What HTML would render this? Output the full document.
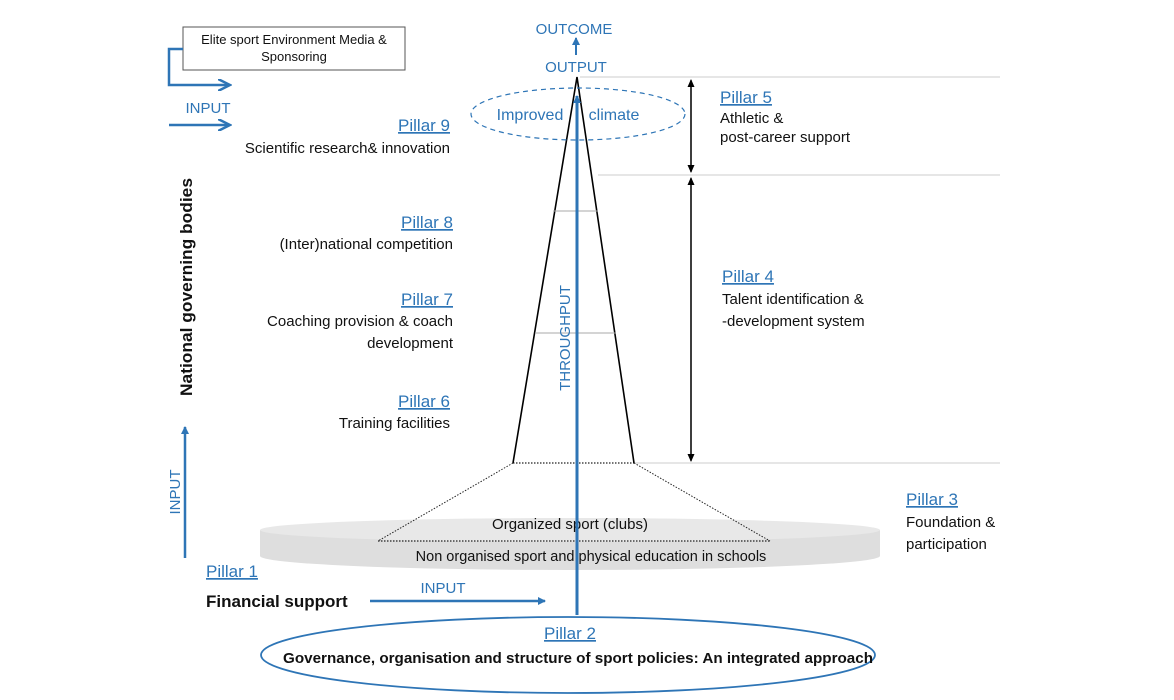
<!DOCTYPE html>
<html><head><meta charset="utf-8"><style>
html,body{margin:0;padding:0;background:#fff;}
svg{display:block;font-family:"Liberation Sans",sans-serif;}
.b{fill:#2e75b6;}
.k{fill:#111;}
</style></head><body>
<svg width="1174" height="700" viewBox="0 0 1174 700" xmlns="http://www.w3.org/2000/svg">
<defs>
<marker id="ab" markerWidth="8" markerHeight="8" refX="7" refY="4" orient="auto" markerUnits="userSpaceOnUse"><path d="M0,0 L8,4 L0,8 Z" fill="#2e75b6"/></marker>
<marker id="ak" markerWidth="8" markerHeight="8" refX="7" refY="4" orient="auto" markerUnits="userSpaceOnUse"><path d="M0,0.5 L8,4 L0,7.5 Z" fill="#000"/></marker>
<marker id="ab2" markerWidth="14" markerHeight="12" refX="12" refY="6" orient="auto" markerUnits="userSpaceOnUse"><path d="M0,0 L12,6 L0,12" fill="none" stroke="#2e75b6" stroke-width="2.5"/></marker>
</defs>
<rect x="183" y="27" width="222" height="43" fill="#fff" stroke="#555" stroke-width="1"/>
<text x="294" y="44" font-size="13" text-anchor="middle" class="k">Elite sport Environment Media &amp;</text>
<text x="294" y="61" font-size="13" text-anchor="middle" class="k">Sponsoring</text>
<polyline points="183,49 169,49 169,85 230,85" fill="none" stroke="#2e75b6" stroke-width="2.5" marker-end="url(#ab2)"/>
<text x="208" y="113" font-size="15" text-anchor="middle" class="b">INPUT</text>
<line x1="169" y1="125" x2="230" y2="125" stroke="#2e75b6" stroke-width="2.5" marker-end="url(#ab2)"/>

<line x1="580" y1="77" x2="1000" y2="77" stroke="#ccc" stroke-width="1"/>
<line x1="598" y1="175" x2="1000" y2="175" stroke="#ccc" stroke-width="1"/>
<line x1="634" y1="463" x2="1000" y2="463" stroke="#ccc" stroke-width="1"/>
<line x1="691" y1="170" x2="691" y2="80" stroke="#000" stroke-width="1.3" marker-end="url(#ak)"/>
<line x1="691" y1="84" x2="691" y2="172" stroke="#000" stroke-width="1.3" marker-end="url(#ak)"/>
<line x1="691" y1="458" x2="691" y2="178" stroke="#000" stroke-width="1.3" marker-end="url(#ak)"/>
<line x1="691" y1="182" x2="691" y2="461" stroke="#000" stroke-width="1.3" marker-end="url(#ak)"/>

<path d="M260,530 L260,556 A310,14 0 0 0 880,556 L880,530 Z" fill="#dedede"/>
<ellipse cx="570" cy="530" rx="310" ry="12" fill="#e8e8e8"/>
<line x1="513" y1="463" x2="378" y2="541" stroke="#222" stroke-width="1" stroke-dasharray="1.5,1.5"/>
<line x1="634" y1="463" x2="770" y2="541" stroke="#222" stroke-width="1" stroke-dasharray="1.5,1.5"/>
<line x1="378" y1="541" x2="770" y2="541" stroke="#222" stroke-width="1.3" stroke-dasharray="1.5,1.5"/>
<line x1="513" y1="463" x2="634" y2="463" stroke="#222" stroke-width="1.3" stroke-dasharray="1.5,1.5"/>
<text x="570" y="529" font-size="15" text-anchor="middle" class="k">Organized  sport (clubs)</text>
<text x="591" y="561" font-size="14.5" text-anchor="middle" class="k">Non organised sport and   physical education in schools</text>

<polyline points="513,463 577,77 634,463" fill="none" stroke="#000" stroke-width="1.6"/>
<line x1="553" y1="211" x2="598" y2="211" stroke="#aaa" stroke-width="1"/>
<line x1="535" y1="333" x2="616" y2="333" stroke="#aaa" stroke-width="1"/>

<ellipse cx="578" cy="114" rx="107" ry="26" fill="none" stroke="#2e75b6" stroke-width="1.2" stroke-dasharray="5,4"/>
<text x="530" y="120" font-size="16" text-anchor="middle" class="b">Improved</text>
<text x="614" y="120" font-size="16" text-anchor="middle" class="b">climate</text>

<line x1="577" y1="615" x2="577" y2="96" stroke="#2e75b6" stroke-width="3" marker-end="url(#ab)"/>
<text transform="translate(570,338) rotate(-90)" font-size="15" text-anchor="middle" class="b">THROUGHPUT</text>
<text x="576" y="72" font-size="15" text-anchor="middle" class="b">OUTPUT</text>
<line x1="576" y1="55" x2="576" y2="38" stroke="#2e75b6" stroke-width="2" marker-end="url(#ab)"/>
<text x="574" y="34" font-size="15" text-anchor="middle" class="b">OUTCOME</text>

<text x="450" y="131" font-size="17" text-anchor="end" class="b" text-decoration="underline">Pillar 9</text>
<text x="450" y="153" font-size="15" text-anchor="end" class="k">Scientific research&amp; innovation</text>
<text x="453" y="228" font-size="17" text-anchor="end" class="b" text-decoration="underline">Pillar 8</text>
<text x="453" y="249" font-size="15" text-anchor="end" class="k">(Inter)national competition</text>
<text x="453" y="305" font-size="17" text-anchor="end" class="b" text-decoration="underline">Pillar 7</text>
<text x="453" y="326" font-size="15" text-anchor="end" class="k">Coaching provision &amp; coach</text>
<text x="453" y="348" font-size="15" text-anchor="end" class="k">development</text>
<text x="450" y="407" font-size="17" text-anchor="end" class="b" text-decoration="underline">Pillar 6</text>
<text x="450" y="428" font-size="15" text-anchor="end" class="k">Training facilities</text>

<text x="720" y="103" font-size="17" class="b" text-decoration="underline">Pillar 5</text>
<text x="720" y="123" font-size="15" class="k">Athletic &amp;</text>
<text x="720" y="142" font-size="15" class="k">post-career support</text>
<text x="722" y="282" font-size="17" class="b" text-decoration="underline">Pillar 4</text>
<text x="722" y="304" font-size="15" class="k">Talent identification &amp;</text>
<text x="722" y="326" font-size="15" class="k">-development system</text>
<text x="906" y="505" font-size="17" class="b" text-decoration="underline">Pillar 3</text>
<text x="906" y="527" font-size="15" class="k">Foundation &amp;</text>
<text x="906" y="549" font-size="15" class="k">participation</text>

<text transform="translate(192,287) rotate(-90)" font-size="17" font-weight="bold" text-anchor="middle" class="k" textLength="218" lengthAdjust="spacingAndGlyphs">National governing bodies</text>
<text transform="translate(180,492) rotate(-90)" font-size="15" text-anchor="middle" class="b">INPUT</text>
<line x1="185" y1="558" x2="185" y2="427" stroke="#2e75b6" stroke-width="2.5" marker-end="url(#ab)"/>

<text x="206" y="577" font-size="17" class="b" text-decoration="underline">Pillar 1</text>
<text x="206" y="607" font-size="17" font-weight="bold" class="k">Financial support</text>
<text x="443" y="593" font-size="15" text-anchor="middle" class="b">INPUT</text>
<line x1="370" y1="601" x2="545" y2="601" stroke="#2e75b6" stroke-width="2.5" marker-end="url(#ab)"/>

<ellipse cx="568" cy="655" rx="307" ry="38" fill="none" stroke="#2e75b6" stroke-width="1.8"/>
<text x="570" y="639" font-size="17" text-anchor="middle" class="b" text-decoration="underline">Pillar 2</text>
<text x="578" y="663" font-size="15" font-weight="bold" text-anchor="middle" class="k" textLength="590" lengthAdjust="spacingAndGlyphs">Governance, organisation and structure of sport policies: An integrated approach</text>
</svg>
</body></html>
